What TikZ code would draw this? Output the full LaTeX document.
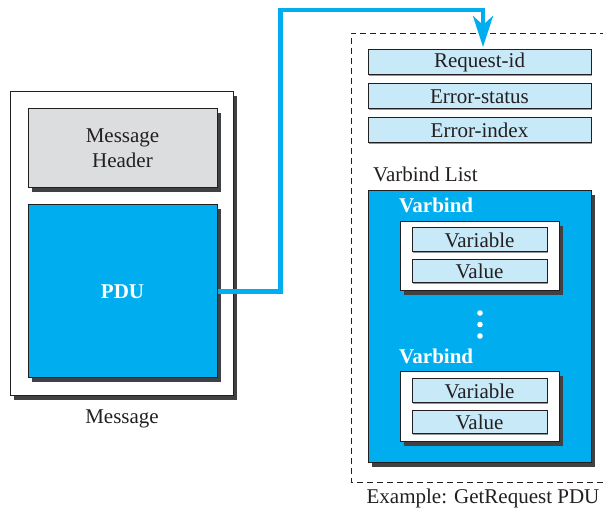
\documentclass[tikz,border=0pt]{standalone}
\usepackage{fontspec}
\setmainfont{Liberation Serif}
\usetikzlibrary{shadows,arrows.meta}
\definecolor{pdublue}{HTML}{00AEEF}
\definecolor{lightblue}{HTML}{C8E9F8}
\definecolor{hdrgray}{HTML}{DCDDDF}
\definecolor{shadowgray}{HTML}{414042}
\definecolor{inkc}{HTML}{231F20}
\tikzset{
  shad/.style={general shadow={fill=shadowgray, shadow xshift=4pt, shadow yshift=-4pt}},
  boxbase/.style={draw=inkc, line width=1pt, inner sep=0pt, text=inkc, align=center},
  whitebox/.style={boxbase, fill=white, shad},
  graybox/.style={boxbase, fill=hdrgray, shad},
  bluebox/.style={boxbase, fill=pdublue, shad},
  fieldbox/.style={boxbase, fill=lightblue, general shadow={fill=shadowgray!55, shadow xshift=1.3pt, shadow yshift=-1.3pt}},
  lbl/.style={inner sep=0pt, text=inkc},
  wlbl/.style={inner sep=0pt, text=white, font=\fontsize{21}{25}\selectfont\bfseries},
  conn/.style={draw=pdublue, line width=4.5pt, -{Stealth[length=31pt,width=20pt,inset=9pt]}},
}
\begin{document}
\begin{tikzpicture}[x=1pt,y=-1pt,font=\fontsize{21}{25}\selectfont]
\useasboundingbox (0,0) rectangle (603,510);
% left message
\node[whitebox, minimum width=223pt, minimum height=304pt] (msg) at (121.5,244) {};
\node[graybox, minimum width=189pt, minimum height=79pt] (hdr) at (122.5,148.5) {Message\\Header};
\node[bluebox, minimum width=189pt, minimum height=173pt, text=white, font=\fontsize{21}{25}\selectfont\bfseries] (pdu) at (122.5,291.5) {PDU};
\node[lbl] (msglbl) at (122,418.5) {Message};
% dashed frame (right side is cut off)
\coordinate (dtr) at (606,33);
\coordinate (dtl) at (351,33);
\coordinate (dbl) at (351,482);
\coordinate (dbr) at (606,482);
\draw[draw=inkc, line width=0.9pt, dash pattern=on 6pt off 4pt] (dtr) -- (dtl) -- (dbl) -- (dbr);
% fields
\node[fieldbox, minimum width=223pt, minimum height=25pt] (rid) at (479.5,62.5) {Request-id};
\node[fieldbox, minimum width=223pt, minimum height=25pt] (est) at (479.5,96.5) {Error-status};
\node[fieldbox, minimum width=223pt, minimum height=25pt] (eix) at (479.5,130.5) {Error-index};
\node[lbl, anchor=west] (vbl) at (373,174.5) {Varbind List};
% varbind list
\node[bluebox, minimum width=223pt, minimum height=272pt] (vlist) at (479.5,327) {};
\node[wlbl, anchor=west] (vb1lbl) at (399,205) {Varbind};
\node[whitebox, minimum width=159pt, minimum height=69pt] (vb1) at (479.5,256.5) {};
\node[fieldbox, minimum width=135pt, minimum height=24pt] (var1) at (479.5,240) {Variable};
\node[fieldbox, minimum width=135pt, minimum height=23pt] (val1) at (479.5,271.5) {Value};
\fill[white] (480,313) circle (2.8pt) (480,324.5) circle (2.8pt) (480,336) circle (2.8pt);
\node[wlbl, anchor=west] (vb2lbl) at (399,356) {Varbind};
\node[whitebox, minimum width=159pt, minimum height=70pt] (vb2) at (479.5,407) {};
\node[fieldbox, minimum width=135pt, minimum height=24pt] (var2) at (479.5,391) {Variable};
\node[fieldbox, minimum width=135pt, minimum height=23pt] (val2) at (479.5,422.5) {Value};
\node[lbl] (exlbl) at (483,498) {Example: GetRequest PDU};
% connector
\coordinate (tip) at (483,47);
\draw[conn] (pdu.east) -| (280.5,10) -| (tip);
\end{tikzpicture}
\end{document}
